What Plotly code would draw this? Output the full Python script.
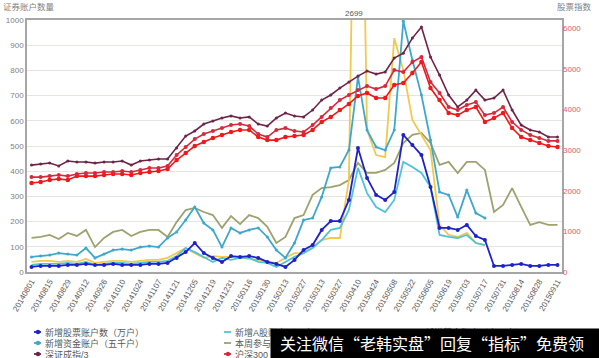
import plotly.graph_objects as go

dates = ["20140801","20140808","20140815","20140822","20140829","20140905","20140912","20140919",
         "20140926","20141003","20141010","20141017","20141024","20141031","20141107","20141114",
         "20141121","20141128","20141205","20141212","20141219","20141226","20141231","20150109",
         "20150116","20150123","20150130","20150206","20150213","20150220","20150227","20150306",
         "20150313","20150320","20150327","20150403","20150410","20150417","20150424","20150430",
         "20150508","20150515","20150522","20150529","20150605","20150612","20150619","20150626",
         "20150703","20150710","20150717","20150724","20150731","20150807","20150814","20150821",
         "20150828","20150904","20150911"]
tick_labels = dates[::2]

# left axis series
new_stock_acct = [20,24,24,24,28,28,32,28,28,32,28,28,28,32,32,36,56,79,115,75,56,40,63,60,
                  63,56,40,32,20,48,87,107,167,202,202,286,492,373,306,286,317,544,504,464,
                  337,175,175,167,187,143,127,24,24,28,32,24,24,28,28]
new_fund_acct = [60,63,67,75,71,67,95,56,71,87,91,87,99,103,99,135,159,206,258,194,167,99,175,
                 155,167,175,139,87,56,115,206,214,298,413,417,484,774,563,496,484,563,995,841,
                 702,524,317,306,218,325,234,214,None,None,None,None,None,None,None,None]
new_a_acct = [28,32,32,32,36,32,40,28,32,36,36,32,36,40,40,44,63,95,79,60,40,56,48,56,56,40,36,
              20,40,60,75,95,127,167,175,246,413,313,258,238,286,437,417,393,337,147,139,135,147,
              115,107,None,None,None,None,None,None,None,None]
traded_acct = [135,139,147,131,155,143,167,99,135,159,167,143,159,167,167,139,198,246,254,238,
               226,175,222,190,226,214,179,115,139,214,226,306,333,337,345,365,433,393,393,405,
               433,512,544,552,512,425,437,393,437,437,405,238,266,333,258,187,198,187,187]
new_fund_acct2 = [40,44,44,40,44,40,52,36,40,44,44,40,44,48,48,56,75,95,75,56,63,60,60,56,52,48,
                  40,36,56,75,75,99,127,135,135,365,2699,563,464,456,928,802,603,544,484,187,147,
                  139,155,115,107,None,None,None,None,None,None,None,None]

# right axis series
szse_div3 = [2630,2655,2680,2610,2730,2705,2705,2680,2705,2705,2730,2630,2730,2755,2780,2780,
             3050,3345,3470,3640,3715,3790,3840,3790,3815,3640,3590,3790,3910,3840,3815,3985,
             4230,4355,4525,4675,4820,4945,4870,4920,5265,5385,5755,6030,5290,4845,4355,4060,
             4230,4475,4230,4280,4475,3985,3615,3495,3445,3320,3320]
csi300 = [2335,2335,2360,2385,2360,2410,2435,2435,2460,2460,2485,2460,2510,2560,2560,2610,2880,
          3075,3270,3395,3470,3540,3615,3640,3590,3395,3320,3495,3540,3470,3445,3615,3815,4035,
          4230,4355,4475,4575,4500,4575,4970,4920,5165,5290,4675,4405,4060,3985,4110,4180,3860,
          3910,4060,3690,3495,3370,3295,3225,3225]
shci = [2190,2215,2265,2290,2265,2360,2360,2360,2385,2410,2410,2385,2435,2460,2485,2535,2755,
        2925,3100,3200,3295,3370,3445,3495,3495,3320,3245,3245,3320,3345,3370,3495,3690,3815,
        3985,4135,4330,4405,4280,4280,4600,4650,4895,5165,4525,4230,3910,3860,3985,4060,3690,
        3790,3910,3540,3320,3245,3175,3100,3075]

# (name, values, color, line width, marker size or None, axis, legend column, legend row)
series = [
    ("本周参与交易的A股账户（十万户）", traded_acct, "#9DA26E", 1.8, None, "y", 1, 1),
    ("新增基金账户（十万户）", new_fund_acct2, "#F2C94C", 1.8, None, "y", 2, 0),
    ("新增A股账户（万户）", new_a_acct, "#4FC3D9", 1.8, None, "y", 1, 0),
    ("新增资金账户（五千户）", new_fund_acct, "#3EA8CC", 1.8, 3, "y", 0, 1),
    ("新增股票账户数（万户）", new_stock_acct, "#1F22C8", 1.8, 4, "y", 0, 0),
    ("深证成指/3", szse_div3, "#6E2448", 1.6, 3, "y2", 0, 2),
    ("上证综指", shci, "#F01818", 1.6, 4.5, "y2", 2, 2),
    ("沪深300", csi300, "#D8283C", 1.6, 4, "y2", 1, 2),
]

W, H = 599, 358
L_, R_, T_, B_ = 27, 37, 20, 86
pw, ph = W - L_ - R_, H - T_ - B_

def px(x):
    return (x - L_) / pw

def py(y):
    return (H - B_ - y) / ph

fig = go.Figure()
shapes = []
annotations = []
col_x = [38, 228, 418]
row_y = [332, 343, 354]
for name, vals, color, width, msize, axis, col, row in series:
    fig.add_trace(go.Scatter(
        x=dates, y=vals, name=name, yaxis=axis, showlegend=False,
        mode="lines+markers" if msize else "lines",
        line=dict(color=color, width=width),
        marker=dict(size=msize or 4, color=color)))
    cx, cy = col_x[col], row_y[row]
    shapes.append(dict(type="line", xref="paper", yref="paper", x0=px(cx - 4), x1=px(cx + 3),
                       y0=py(cy), y1=py(cy), line=dict(color=color, width=1.8)))
    if msize:
        r = 2.2
        shapes.append(dict(type="circle", xref="paper", yref="paper", x0=px(cx - r), x1=px(cx + r),
                           y0=py(cy + r), y1=py(cy - r), fillcolor=color, line=dict(width=0)))
    annotations.append(dict(text=name, x=px(cx + 5), y=py(cy), xref="paper", yref="paper",
                            xanchor="left", yanchor="middle", showarrow=False,
                            font=dict(size=9, color="#595959")))

annotations += [
    dict(text="2699", x=35.6, y=1.0, xref="x", yref="paper", yanchor="bottom",
         showarrow=False, font=dict(size=8, color="#595959")),
    dict(text="证券账户数量", x=px(1), y=py(7), xref="paper", yref="paper", xanchor="left",
         yanchor="middle", showarrow=False, font=dict(size=8.5, color="#7F7F7F")),
    dict(text="股票指数", x=px(594), y=py(7), xref="paper", yref="paper", xanchor="right",
         yanchor="middle", showarrow=False, font=dict(size=8.5, color="#7F7F7F")),
    dict(text=" ", x=px(270), y=py(328), xref="paper", yref="paper", xanchor="left",
         yanchor="top", showarrow=False, width=329, height=30, bgcolor="black", borderpad=0),
    dict(text="关注微信“老韩实盘”回复“指标”免费领", x=px(278), y=py(343), xref="paper",
         yref="paper", xanchor="left", yanchor="middle", showarrow=False,
         font=dict(size=16, color="white", family="Noto Sans CJK SC")),
]

axis_line = dict(showline=True, linecolor="#A6A6A6", linewidth=1.5, mirror=True)
fig.update_layout(
    width=W, height=H,
    margin=dict(l=L_, r=R_, t=T_, b=B_, autoexpand=False),
    paper_bgcolor="white", plot_bgcolor="white",
    font=dict(family="Liberation Sans, Noto Sans CJK SC", size=8, color="#595959"),
    xaxis=dict(type="category", categoryorder="array", categoryarray=dates,
               tickvals=tick_labels, ticktext=tick_labels, tickangle=-60,
               tickfont=dict(size=8, color="#595959"), range=[-0.5, len(dates) - 0.5],
               showgrid=False, ticks="", **axis_line),
    yaxis=dict(range=[0, 1000], dtick=100, showgrid=True, gridcolor="#E4E4E0", gridwidth=1,
               tickfont=dict(size=8, color="#7F7F7F"), zeroline=False, ticks="", **axis_line),
    yaxis2=dict(range=[0, 6200], tickvals=[0,1000,2000,3000,4000,5000,6000], overlaying="y",
                side="right", showgrid=False, zeroline=False,
                tickfont=dict(size=8, color="#E06060"), ticks=""),
    showlegend=False,
    shapes=shapes,
    annotations=annotations,
)

fig.write_html("out.html", config={"displayModeBar": False},
               post_script="document.body.style.margin='0';")
